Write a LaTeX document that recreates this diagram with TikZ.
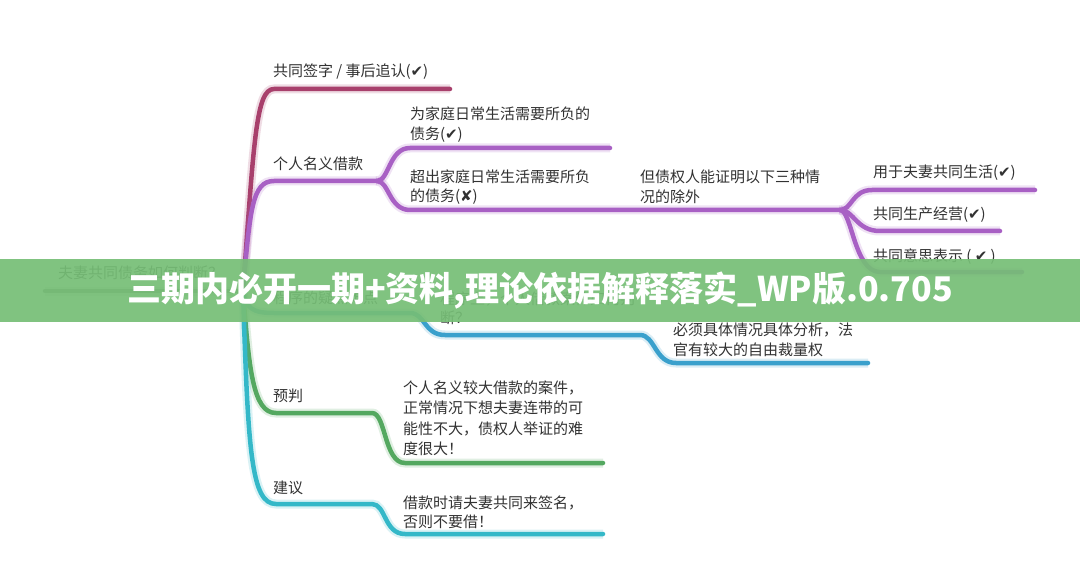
\documentclass[tikz,border=0pt]{standalone}
\usepackage{fontspec}
\newfontfamily\cjk{Noto Sans CJK SC}
\newfontfamily\symf{DejaVu Sans}
\newcommand\mycheck{{\symf\char"2714}}
\newcommand\mycross{{\symf\char"2718}}
\definecolor{maroonc}{RGB}{168,64,108}
\definecolor{purplec}{RGB}{168,96,196}
\definecolor{bluec}{RGB}{58,160,204}
\definecolor{greenc}{RGB}{84,168,96}
\definecolor{cyanc}{RGB}{52,184,200}
\definecolor{rootgray}{RGB}{130,130,130}
\definecolor{txt}{RGB}{50,50,50}
\definecolor{bannerg}{RGB}{118,190,118}
\begin{document}
\begin{tikzpicture}[x=1pt,y=-1pt,
  every node/.style={inner sep=0pt,outer sep=0pt},
  lbl/.style={anchor=west,font=\cjk\fontsize{15}{19.5}\selectfont,text=txt,align=left},
  brc/.style={line width=4.5pt,line cap=round,line join=round,draw=#1,
    preaction={draw=#1,line width=9pt,draw opacity=0.18}}]
\useasboundingbox (0,0) rectangle (1080,583);
\fill[white] (0,0) rectangle (1080,583);
% coordinates
\coordinate (J) at (243,291);
\coordinate (R0) at (45,291);
\coordinate (P1) at (377,181);
\coordinate (P2) at (840,210);
% root
\draw[brc=rootgray] (R0) -- (J);
% maroon
\draw[brc=maroonc] (J) .. controls (254,140) and (256,89) .. (274,89) -- (450,89);
% purple
\draw[brc=purplec] (J) .. controls (250,210) and (252,181) .. (274,181) -- (P1);
\draw[brc=purplec] (P1) .. controls (389,181) and (389,148) .. (410,148) -- (610,148);
\draw[brc=purplec] (P1) .. controls (389,181) and (389,210) .. (410,210) -- (P2);
\draw[brc=purplec] (P2) .. controls (852,210) and (852,190) .. (872,190) -- (1035,190);
\draw[brc=purplec] (P2) .. controls (854,210) and (856,231) .. (880,231) -- (1000,231);
\draw[brc=purplec] (P2) .. controls (852,210) and (854,272) .. (880,272) -- (1022,272);
% blue
\draw[brc=bluec] (J) .. controls (246,308) and (252,313) .. (274,313) -- (410,313)
  .. controls (425,313) and (424,335) .. (445,335) -- (640,335)
  .. controls (655,335) and (655,363) .. (676,363) -- (868,363);
% green
\draw[brc=greenc] (J) .. controls (249,370) and (253,413) .. (276,413) -- (372,413)
  .. controls (386,413) and (384,463) .. (405,463) -- (603,463);
% cyan
\draw[brc=cyanc] (J) .. controls (248,450) and (251,504) .. (276,504) -- (372,504)
  .. controls (386,504) and (384,534) .. (405,534) -- (603,534);
% labels
\node[lbl] (root) at (58,273) {夫妻共同债务如何判断？};
\node[lbl] (t1) at (273,72) {共同签字 / 事后追认(\mycheck)};
\node[lbl] (t2) at (273,164) {个人名义借款};
\node[lbl] (t3) at (410,124.5) {为家庭日常生活需要所负的\\债务(\mycheck)};
\node[lbl] (t4) at (410,187) {超出家庭日常生活需要所负\\的债务(\mycross)};
\node[lbl] (t5) at (640,187) {但债权人能证明以下三种情\\况的除外};
\node[lbl] (t6) at (873,173) {用于夫妻共同生活(\mycheck)};
\node[lbl] (t7) at (873,215) {共同生产经营(\mycheck)};
\node[lbl] (t8) at (873,257) {共同意思表示 ( \mycheck\ )};
\node[lbl] (t9) at (273,298) {程序的疑点难点};
\node[lbl] (t10) at (440,308.5) {程序上，个人借款案件如何判\\断？};
\node[lbl] (t11) at (673,340) {必须具体情况具体分析，法\\官有较大的自由裁量权};
\node[lbl] (t12) at (273,396) {预判};
\node[lbl,font=\cjk\fontsize{15}{20.5}\selectfont] (t13) at (403,418.5) {个人名义较大借款的案件，\\正常情况下想夫妻连带的可\\能性不大，债权人举证的难\\度很大！};
\node[lbl] (t14) at (273,488) {建议};
\node[lbl] (t15) at (403,512.5) {借款时请夫妻共同来签名，\\否则不要借！};
% banner
\fill[bannerg,opacity=0.92] (0,259) rectangle (1080,322);
\node[text=white,font=\cjk\bfseries\fontsize{34}{34}\selectfont] (ban) at (540,291) {三期内必开一期+资料,理论依据解释落实\_WP版.0.705};
\end{tikzpicture}
\end{document}
